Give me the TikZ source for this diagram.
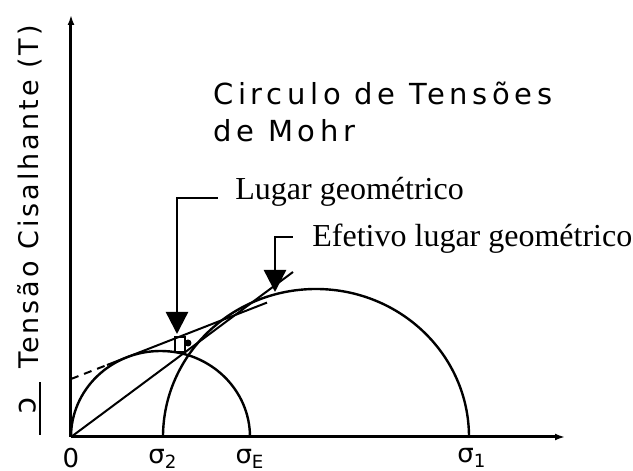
\documentclass[tikz,border=0pt]{standalone}
\usepackage{fontspec}
\setmainfont{Liberation Serif}
\newfontfamily\titulofont{DejaVu Sans}[LetterSpace=16]
\newfontfamily\eixofont{DejaVu Sans}[LetterSpace=11]
\newfontfamily\plotfont{DejaVu Sans}
\usetikzlibrary{arrows.meta}

\begin{document}
\begin{tikzpicture}[x=0.5pt, y=0.5pt, every node/.style={inner sep=0pt}]
    \tikzstyle{eixo}=[line width=1.5pt, -{Latex[length=5pt, width=3.5pt]}]
    \tikzstyle{circulo}=[line width=1.2pt]
    \tikzstyle{reta}=[line width=1pt]
    \tikzstyle{seta}=[line width=1.2pt, -{Triangle[length=11pt, width=11pt]}]
    \tikzstyle{rotulo}=[font=\fontsize{16}{18}\selectfont]
    \tikzstyle{titulo}=[font=\titulofont\fontsize{14.5}{16}\selectfont]
    \tikzstyle{tensao}=[font=\plotfont\fontsize{13}{15}\selectfont]
    \useasboundingbox (-71,-34) rectangle (562,437);
    % eixos
    \coordinate (O) at (0,0);
    \coordinate (yfim) at (0,422);
    \coordinate (xfim) at (494,0);
    \draw[eixo] (O) -- (yfim);
    \draw[eixo] (O) -- (xfim);
    % circulos de Mohr
    \draw[circulo] (179,0) arc[start angle=0, end angle=180, x radius=89.5, y radius=86];
    \draw[circulo] (398,0) arc[start angle=0, end angle=180, x radius=153, y radius=148];
    % envoltorias
    \coordinate (c) at (0,58);
    \coordinate (t1) at (36,72);
    \coordinate (t2) at (196,134.4);
    \coordinate (ef) at (222,165);
    \draw[reta, dash pattern=on 4pt off 3pt] (c) -- (t1);
    \draw[reta] (t1) -- (t2);
    \draw[reta] (O) -- (ef);
    \draw[reta] (104,85) rectangle (114,100);
    \fill (117,94) circle (3.5);
    % legendas
    \node[titulo, anchor=base west] (tit) at (142,332) {Circulo de Tensões};
    \node[titulo, anchor=base west] (tit2) at (142,295) {de Mohr};
    \node[rotulo, anchor=base west] (lugar) at (164,237) {Lugar geométrico};
    \node[rotulo, anchor=base west] (efetivo) at (241,190) {Efetivo lugar geométrico};
    \coordinate (lA) at (147,239);
    \coordinate (pl) at (106,103);
    \coordinate (eA) at (222,200);
    \coordinate (pe) at (204,145);
    \draw[seta] (lA) -| (pl);
    \draw[seta] (eA) -| (pe);
    % eixo vertical
    \node[font=\eixofont\fontsize{13.5}{15}\selectfont, rotate=90] (tau) at (-41,240) {Tensão Cisalhante (T)};
    \node[font=\plotfont\fontsize{15}{17}\selectfont, rotate=-90] (coes) at (-43,31) {c};
    \coordinate (b1) at (-31,2);
    \coordinate (b2) at (-31,55);
    \draw[line width=1.2pt] (b1) -- (b2);
    % tensoes normais
    \node[tensao] (zero) at (0,-21) {0};
    \node[tensao] (s2) at (92,-22) {σ\textsubscript{2}};
    \node[tensao] (sE) at (179,-22) {σ\textsubscript{E}};
    \node[tensao] (s1) at (401,-21) {σ\textsubscript{1}};
\end{tikzpicture}
\end{document}
